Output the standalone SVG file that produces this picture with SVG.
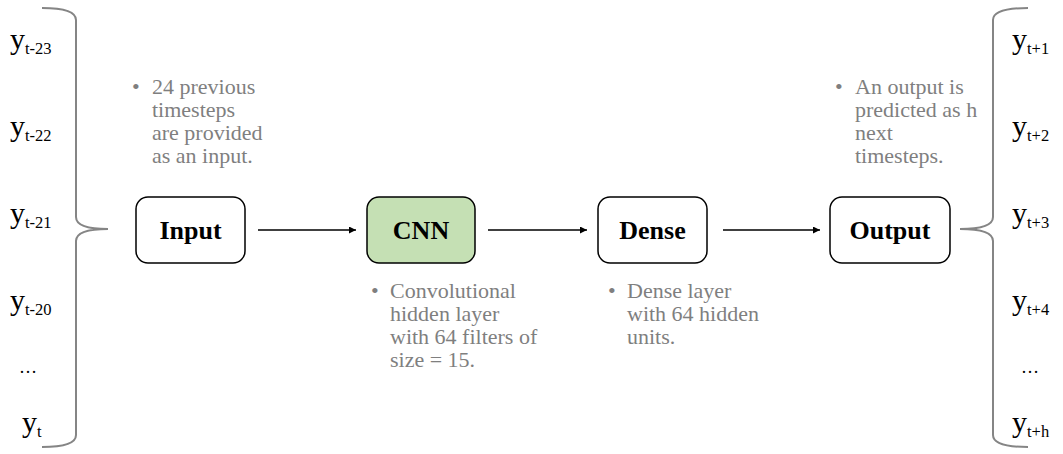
<svg xmlns="http://www.w3.org/2000/svg" width="1063" height="454" viewBox="0 0 1063 454">
<style>
.box{stroke:#000;stroke-width:1.5;fill:#fff}
.lbl{font-family:"Liberation Serif",serif;font-weight:bold;font-size:26px;fill:#000;text-anchor:middle}
.note{font-family:"Liberation Serif",serif;font-size:22px;fill:#7f7f7f}
.y{font-family:"Liberation Serif",serif;font-size:30px;fill:#000}
.sub{font-size:16.5px}
.brace{fill:none;stroke:#858585;stroke-width:2}
.conn{stroke:#000;stroke-width:1.5;fill:none}
</style>
<defs>
<marker id="ah" viewBox="0 0 10 10" refX="10" refY="5" markerWidth="7" markerHeight="7" markerUnits="userSpaceOnUse" orient="auto">
<path d="M0,0 L10,5 L0,10 z" fill="#000"/>
</marker>
</defs>
<g id="left-brace">
<path class="brace" d="M42,8 Q76,8 76,20 L76,217 Q76,229 108,229 Q76,229 76,241 L76,435 Q76,447 42,447"/>
</g>
<g id="right-brace">
<path class="brace" d="M1028,8 Q993,8 993,20 L993,217 Q993,229 960,229 Q993,229 993,241 L993,435 Q993,447 1028,447"/>
</g>
<g id="inputs">
<text class="y" x="10" y="49">y<tspan class="sub" dy="5">t-23</tspan></text>
<text class="y" x="10" y="136">y<tspan class="sub" dy="5">t-22</tspan></text>
<text class="y" x="10" y="223">y<tspan class="sub" dy="5">t-21</tspan></text>
<text class="y" x="10" y="310">y<tspan class="sub" dy="5">t-20</tspan></text>
<text class="y" x="19" y="373" style="font-size:18px">…</text>
<text class="y" x="22" y="432">y<tspan class="sub" dy="5">t</tspan></text>
</g>
<g id="outputs">
<text class="y" x="1012" y="49">y<tspan class="sub" dy="5">t+1</tspan></text>
<text class="y" x="1012" y="136">y<tspan class="sub" dy="5">t+2</tspan></text>
<text class="y" x="1012" y="223">y<tspan class="sub" dy="5">t+3</tspan></text>
<text class="y" x="1012" y="310">y<tspan class="sub" dy="5">t+4</tspan></text>
<text class="y" x="1021" y="373" style="font-size:18px">…</text>
<text class="y" x="1012" y="432">y<tspan class="sub" dy="5">t+h</tspan></text>
</g>
<g id="connectors">
<line class="conn" x1="258" y1="230" x2="356" y2="230" marker-end="url(#ah)"/>
<line class="conn" x1="488" y1="230" x2="587" y2="230" marker-end="url(#ah)"/>
<line class="conn" x1="723" y1="230" x2="820" y2="230" marker-end="url(#ah)"/>
</g>
<g id="node-input">
<rect class="box" x="136" y="197" width="109" height="66" rx="12"/>
<text class="lbl" x="190.5" y="239">Input</text>
</g>
<g id="node-cnn">
<rect class="box" x="367" y="197" width="108" height="66" rx="12" style="fill:#c5e0b4"/>
<text class="lbl" x="421" y="239">CNN</text>
</g>
<g id="node-dense">
<rect class="box" x="598" y="197" width="109" height="66" rx="12"/>
<text class="lbl" x="652.5" y="239">Dense</text>
</g>
<g id="node-output">
<rect class="box" x="830" y="197" width="120" height="66" rx="12"/>
<text class="lbl" x="890" y="239">Output</text>
</g>
<g id="note-input">
<text class="note" x="132" y="94">•</text>
<text class="note" x="152" y="94">24 previous</text>
<text class="note" x="152" y="117">timesteps</text>
<text class="note" x="152" y="140">are provided</text>
<text class="note" x="152" y="163">as an input.</text>
</g>
<g id="note-cnn">
<text class="note" x="371" y="298">•</text>
<text class="note" x="390" y="298">Convolutional</text>
<text class="note" x="390" y="321">hidden layer</text>
<text class="note" x="390" y="344">with 64 filters of</text>
<text class="note" x="390" y="367">size = 15.</text>
</g>
<g id="note-dense">
<text class="note" x="608" y="298">•</text>
<text class="note" x="627" y="298">Dense layer</text>
<text class="note" x="627" y="321">with 64 hidden</text>
<text class="note" x="627" y="344">units.</text>
</g>
<g id="note-output">
<text class="note" x="835" y="94">•</text>
<text class="note" x="855" y="94">An output is</text>
<text class="note" x="855" y="117">predicted as h</text>
<text class="note" x="855" y="140">next</text>
<text class="note" x="855" y="163">timesteps.</text>
</g>
</svg>
